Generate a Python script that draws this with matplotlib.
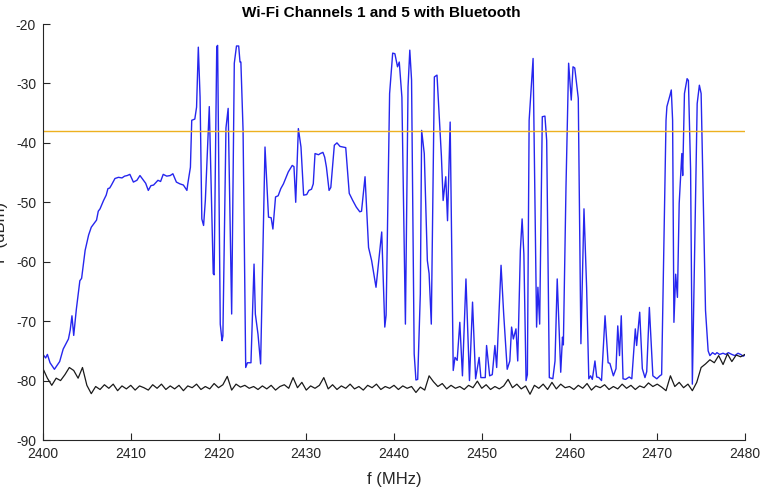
import matplotlib
matplotlib.use("Agg")
import matplotlib.pyplot as plt
import numpy as np

# blue trace: Wi-Fi ch1 + ch5 with Bluetooth hops
blue_f = [2400.0, 2400.3, 2400.5, 2400.8, 2401.3, 2401.9, 2402.3, 2402.9, 2403.1, 2403.3,
          2403.5, 2403.8, 2404.2, 2404.4, 2404.8, 2405.2, 2405.5, 2406.1, 2406.3, 2406.5,
          2406.9, 2407.2, 2407.4, 2407.6, 2407.8, 2408.2, 2408.6, 2409.0, 2409.3, 2409.6,
          2409.9, 2410.3, 2410.7, 2411.05, 2411.4, 2411.7, 2412.0, 2412.3, 2412.6, 2413.1,
          2413.4, 2413.7, 2414.1, 2414.5, 2414.8, 2415.2, 2415.6, 2416.0, 2416.4, 2416.5,
          2416.8, 2416.95, 2417.3, 2417.5, 2417.7, 2417.9, 2418.1, 2418.3, 2418.5, 2418.95,
          2419.4, 2419.5, 2419.8, 2419.9, 2420.2, 2420.4, 2420.5, 2420.85, 2421.1, 2421.5,
          2421.8, 2422.05, 2422.3, 2422.45, 2422.55, 2422.8, 2423.1, 2423.3, 2423.7, 2424.05,
          2424.2, 2424.5, 2424.8, 2425.3, 2425.7, 2426.0, 2426.2, 2426.5, 2426.8, 2427.1,
          2427.4, 2427.95, 2428.4, 2428.6, 2428.8, 2429.1, 2429.4, 2429.7, 2430.05, 2430.3,
          2430.6, 2430.8, 2431.0, 2431.4, 2431.6, 2431.9, 2432.1, 2432.3, 2432.6, 2432.8,
          2433.2, 2433.5, 2433.85, 2434.5, 2434.9, 2435.3, 2435.7, 2436.1, 2436.3, 2436.7,
          2437.1, 2437.45, 2437.95, 2438.6, 2438.95, 2439.1, 2439.5, 2439.85, 2440.1, 2440.4,
          2440.6, 2440.9, 2441.3, 2441.6, 2441.8, 2442.0, 2442.3, 2442.5, 2442.7, 2443.0,
          2443.15, 2443.45, 2443.8, 2444.0, 2444.25, 2444.6, 2444.9, 2445.2, 2445.4, 2445.6,
          2445.9, 2446.1, 2446.4, 2446.75, 2446.95, 2447.2, 2447.5, 2447.8, 2448.2, 2448.6,
          2448.95, 2449.3, 2449.7, 2449.9, 2450.4, 2450.55, 2450.9, 2451.2, 2451.5, 2451.7,
          2452.2, 2452.5, 2452.9, 2453.2, 2453.4, 2453.6, 2453.9, 2454.1, 2454.4, 2454.6,
          2454.8, 2455.05, 2455.2, 2455.4, 2455.85, 2456.25, 2456.4, 2456.6, 2456.9, 2457.2,
          2457.4, 2457.7, 2458.1, 2458.35, 2458.6, 2459.0, 2459.2, 2459.3, 2459.6, 2459.9,
          2460.2, 2460.4, 2460.6, 2461.0, 2461.3, 2461.65, 2461.95, 2462.2, 2462.4, 2462.6,
          2462.9, 2463.1, 2463.35, 2463.65, 2464.05, 2464.4, 2464.6, 2465.0, 2465.3, 2465.5,
          2465.7, 2465.9, 2466.1, 2466.4, 2466.8, 2467.1, 2467.5, 2467.65, 2468.0, 2468.3,
          2468.6, 2468.8, 2469.1, 2469.5, 2469.95, 2470.3, 2470.5, 2470.8, 2471.0, 2471.1,
          2471.45, 2471.6, 2471.75, 2471.9, 2472.1, 2472.3, 2472.5, 2472.8, 2472.9, 2473.1,
          2473.4, 2473.55, 2473.8, 2474.0, 2474.3, 2474.55, 2474.8, 2475.0, 2475.2, 2475.5,
          2475.8, 2476.0, 2476.3, 2476.6, 2476.8, 2477.1, 2477.5, 2477.8, 2478.1, 2478.5,
          2478.85, 2479.2, 2479.5, 2479.8, 2480.0]
blue_p = [-75.6, -76.2, -75.6, -77.0, -78.1, -76.8, -74.7, -73.0, -71.5, -69.1,
          -72.4, -68.0, -63.2, -62.8, -58.1, -55.5, -54.2, -53.0, -51.5, -51.1,
          -49.7, -48.8, -47.7, -47.6, -47.1, -46.0, -45.8, -45.9, -45.6, -45.5,
          -45.3, -46.6, -46.3, -45.5, -46.2, -46.8, -48.0, -47.2, -47.1, -46.3,
          -46.5, -45.3, -45.6, -45.5, -45.2, -46.6, -46.9, -47.1, -48.0, -46.9,
          -44.1, -36.2, -36.0, -34.0, -23.9, -32.3, -52.8, -53.9, -49.7, -33.9,
          -62.0, -62.2, -23.8, -23.6, -70.5, -73.3, -72.5, -37.5, -34.2, -68.8,
          -26.6, -23.7, -23.7, -26.4, -26.4, -37.9, -77.8, -77.0, -77.0, -60.4,
          -68.8, -72.2, -77.2, -40.7, -52.5, -52.6, -54.5, -49.1, -48.9, -47.7,
          -46.9, -44.9, -43.8, -44.0, -50.0, -37.6, -40.7, -48.8, -48.7, -48.0,
          -47.8, -46.9, -41.8, -42.0, -41.8, -41.6, -42.4, -44.1, -48.0, -47.5,
          -40.4, -40.0, -40.6, -40.8, -48.5, -49.7, -50.8, -51.6, -51.5, -45.7,
          -57.6, -59.8, -64.3, -55.0, -71.0, -69.0, -31.7, -24.9, -25.0, -27.2,
          -26.4, -32.3, -70.5, -30.6, -24.4, -29.4, -75.5, -79.9, -79.8, -65.4,
          -37.9, -41.8, -59.8, -62.0, -70.5, -28.9, -28.6, -36.7, -42.2, -49.7,
          -45.7, -53.1, -36.5, -78.3, -76.1, -76.6, -70.2, -79.2, -62.9, -80.0,
          -66.8, -79.7, -76.1, -79.5, -79.5, -74.1, -79.2, -79.0, -74.1, -77.8,
          -60.6, -68.8, -78.1, -76.7, -71.0, -73.0, -71.3, -76.7, -58.1, -52.8,
          -58.7, -80.0, -79.0, -36.2, -25.8, -71.0, -64.3, -70.5, -35.6, -35.5,
          -39.6, -79.5, -79.7, -76.7, -62.9, -78.6, -72.7, -74.0, -47.4, -26.6,
          -32.8, -27.2, -27.4, -32.5, -73.8, -51.1, -64.3, -79.7, -79.2, -79.8,
          -76.7, -79.4, -79.5, -80.0, -69.1, -77.0, -77.1, -79.2, -78.0, -70.8,
          -75.8, -69.1, -79.7, -79.8, -79.4, -79.7, -71.3, -74.1, -68.5, -78.0,
          -79.5, -78.5, -67.7, -79.2, -79.7, -79.2, -79.0, -53.1, -36.2, -33.9,
          -32.0, -31.1, -36.2, -70.2, -62.1, -66.0, -50.2, -41.8, -45.5, -31.7,
          -29.2, -29.5, -44.6, -80.6, -55.3, -33.4, -30.3, -31.7, -46.3, -68.2,
          -75.0, -75.8, -75.3, -75.6, -75.3, -75.6, -75.4, -75.6, -75.3, -75.6,
          -75.8, -75.4, -75.6, -75.9, -75.7]

# black trace: noise floor, one value per 0.5 MHz from 2400 to 2480
black_f = np.arange(2400, 2480.01, 0.5)
black_p = [-78.0, -79.6, -80.8, -79.6, -80.0, -79.0, -77.8, -78.3, -79.6, -77.8,
           -80.8, -82.2, -81.0, -81.5, -80.7, -81.3, -80.6, -81.7, -80.9, -81.4,
           -80.8, -81.6, -80.9, -81.2, -81.6, -80.7, -81.3, -80.6, -81.5, -80.9,
           -81.4, -80.8, -81.7, -80.9, -81.2, -80.6, -81.5, -81.0, -81.4, -80.5,
           -81.2, -80.7, -79.3, -81.6, -80.6, -81.1, -80.8, -81.3, -81.0, -81.5,
           -80.9, -81.4, -80.8, -81.6, -81.0, -80.7, -81.3, -79.5, -81.2, -80.3,
           -81.6, -80.9, -81.3, -80.8, -79.5, -81.4, -80.7, -81.5, -80.9, -81.3,
           -80.6, -81.4, -81.0, -81.6, -80.8, -81.2, -80.6, -81.5, -81.0, -81.3,
           -80.8, -81.5, -80.9, -81.3, -81.0, -82.0, -81.1, -81.6, -79.2, -80.2,
           -81.0, -80.5, -81.4, -80.8, -81.3, -81.0, -81.5, -80.8, -81.2, -80.1,
           -81.3, -80.7, -81.5, -81.0, -81.4, -80.9, -79.8, -81.2, -80.6, -81.4,
           -80.9, -82.3, -80.8, -81.3, -80.6, -81.5, -80.3, -81.4, -80.6, -81.2,
           -81.0, -81.5, -80.8, -81.3, -80.5, -81.6, -80.9, -81.2, -80.7, -81.5,
           -81.0, -81.4, -80.6, -81.3, -80.8, -81.5, -80.9, -81.2, -80.4, -81.0,
           -80.6, -81.1, -81.7, -79.2, -81.0, -80.3, -81.2, -80.6, -81.7, -80.3,
           -77.8, -77.2, -76.5, -77.0, -75.8, -77.3, -75.5, -76.8, -75.7, -76.0,
           -75.6]

threshold = -38
title = "Wi-Fi Channels 1 and 5 with Bluetooth"
xticks = list(range(2400, 2481, 10))
yticks = list(range(-90, -19, 10))

plt.rcParams['font.family'] = ['Liberation Sans', 'DejaVu Sans']
plt.rcParams['axes.unicode_minus'] = False
fig = plt.figure(figsize=(7.63, 4.9), dpi=100)
ax = fig.add_axes([43 / 763, 1 - 440 / 490, 702 / 763, 416 / 490])

ax.plot(blue_f, blue_p, color='#2626ee', lw=1.0)
ax.plot(black_f, black_p, color='#1a1a1a', lw=0.9)
ax.axhline(threshold, color='#EDB120', lw=1.0)

ax.set_xlim(2400, 2480)
ax.set_ylim(-90, -20)
ax.set_xticks(xticks)
ax.set_yticks(yticks)

# MATLAB-like look: no box, inward ticks
ax.spines['top'].set_visible(False)
ax.spines['right'].set_visible(False)
for s in ['left', 'bottom']:
    ax.spines[s].set_color('#262626')
    ax.spines[s].set_linewidth(0.8)
ax.tick_params(direction='in', length=5, width=0.8, colors='#262626',
               labelsize=10, pad=5)

ax.set_title(title, fontsize=11, fontweight='bold', color='#000000', pad=5, x=0.4815)
ax.set_xlabel("f (MHz)", fontsize=12, color='#262626', labelpad=8)
ax.set_ylabel("P (dBm)", fontsize=12, color='#262626')
ax.yaxis.set_label_coords(-0.05, 0.5)

fig.savefig("out.png", dpi=100)
